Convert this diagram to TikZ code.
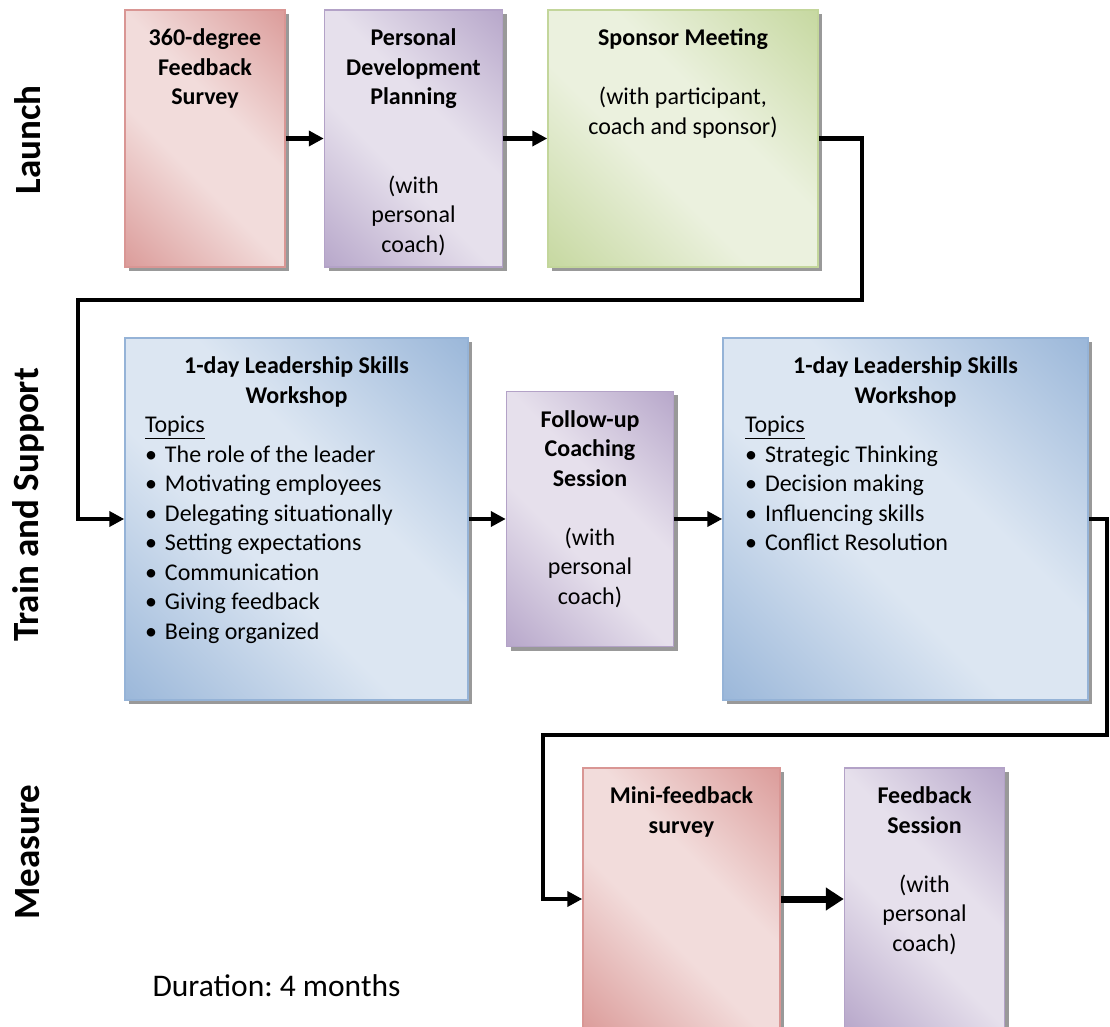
\documentclass[tikz,border=0pt]{standalone}
\usepackage{fontspec}
\setmainfont{Carlito}
\usetikzlibrary{arrows.meta,calc,positioning,shadows}

\definecolor{redD}{HTML}{D99694}
\definecolor{redL}{HTML}{F2DCDB}
\definecolor{purD}{HTML}{B3A2C7}
\definecolor{purL}{HTML}{E6E0EC}
\definecolor{grnD}{HTML}{C3D69B}
\definecolor{grnL}{HTML}{EBF1DE}
\definecolor{bluD}{HTML}{95B3D7}
\definecolor{bluL}{HTML}{DCE6F2}

\pgfdeclarehorizontalshading{redsh}{100bp}{color(0bp)=(redD); color(12bp)=(redD); color(42bp)=(redL); color(58bp)=(redL); color(88bp)=(redD); color(100bp)=(redD)}
\pgfdeclarehorizontalshading{pursh}{100bp}{color(0bp)=(purD); color(12bp)=(purD); color(42bp)=(purL); color(58bp)=(purL); color(88bp)=(purD); color(100bp)=(purD)}
\pgfdeclarehorizontalshading{grnsh}{100bp}{color(0bp)=(grnD); color(12bp)=(grnD); color(42bp)=(grnL); color(58bp)=(grnL); color(88bp)=(grnD); color(100bp)=(grnD)}
\pgfdeclarehorizontalshading{blush}{100bp}{color(0bp)=(bluD); color(12bp)=(bluD); color(42bp)=(bluL); color(58bp)=(bluL); color(88bp)=(bluD); color(100bp)=(bluD)}

% box text: width, height, contents (top aligned)
\newcommand{\boxtxt}[3]{\parbox[c][#2pt][t]{#1pt}{\vspace*{15pt}\centering\strut #3}}
\newcommand{\topic}[1]{\makebox[20pt][l]{\textbullet}#1}

\tikzset{
    -{Triangle[length=15pt,width=15pt]},
    box/.style={rectangle, inner sep=0pt, line width=1.5pt, shading angle=45,
        font=\fontsize{24}{29.5}\selectfont,
        drop shadow={shadow xshift=4pt,shadow yshift=-4pt,fill=black!40,opacity=1}},
    redbox/.style={box, draw=redD, shading=redsh},
    purbox/.style={box, draw=purD, shading=pursh},
    grnbox/.style={box, draw=grnD, shading=grnsh},
    blubox/.style={box, draw=bluD, shading=blush},
    lane/.style={rotate=90, font=\bfseries\fontsize{37}{44}\selectfont},
    big/.style={line width=7pt, -{Triangle[length=18pt,width=22pt]}}
}

\begin{document}
\frenchspacing
\begin{tikzpicture}[x=1pt,y=1pt,line width=4.5pt]
    \useasboundingbox (0,0) rectangle (1110,1026);

    \node[lane] (l1) at (28,886) {Launch};
    \node[lane] (l2) at (28,521) {Train and Support};
    \node[lane] (l3) at (28,174) {Measure};

    % launch
    \node[redbox] (1) at (205,887.5) {\boxtxt{160}{257}{\textbf{360-degree\\Feedback\\Survey}}};
    \node[purbox] (2) [right = 38pt of 1] {\boxtxt{178}{257}{\textbf{Personal\\Development\\Planning}\\[2\baselineskip](with\\personal\\coach)}};
    \node[grnbox] (3) [right = 44pt of 2] {\boxtxt{270}{257}{\textbf{Sponsor Meeting}\\[\baselineskip](with participant,\\coach and sponsor)}};

    % train and support
    \node[blubox] (4) at (296.5,507) {\boxtxt{343}{362}{\textbf{1-day Leadership Skills\\Workshop}\par
        \raggedright\leftskip=20pt \underline{Topics}\\
        \topic{The role of the leader}\\
        \topic{Motivating employees}\\
        \topic{Delegating situationally}\\
        \topic{Setting expectations}\\
        \topic{Communication}\\
        \topic{Giving feedback}\\
        \topic{Being organized}}};
    \node[purbox] (5) [right = 37pt of 4] {\boxtxt{167}{255}{\textbf{Follow-up\\Coaching\\Session}\\[\baselineskip](with\\personal\\coach)}};
    \node[blubox] (6) [right = 48pt of 5] {\boxtxt{365}{362}{\textbf{1-day Leadership Skills\\Workshop}\par
        \raggedright\leftskip=22pt \underline{Topics}\\
        \topic{Strategic Thinking}\\
        \topic{Decision making}\\
        \topic{Influencing skills}\\
        \topic{Conflict Resolution}}};

    % measure
    \node[redbox] (7) at (681.5,127) {\boxtxt{197}{262}{\textbf{Mini-feedback\\survey}}};
    \node[purbox] (8) [right = 63pt of 7] {\boxtxt{160}{262}{\textbf{Feedback\\Session}\\[\baselineskip](with\\personal\\coach)}};

    \node[anchor=base west, font=\fontsize{31.5}{36}\selectfont] (9) at (147,30) {Duration: 4 months};

    \coordinate (a) at (862,726);
    \coordinate (b) at (78,726);
    \coordinate (c) at (1107,291);
    \coordinate (d) at (543,291);

    \path (1) edge (2);
    \path (2) edge (3);
    \draw (3.east) -| (a) -- (b) |- (4.west);
    \path (4) edge (5);
    \path (5) edge (6);
    \draw (6.east) -| (c) -- (d) |- (7.west);
    \path (7) edge[big] (8);

\end{tikzpicture}
\end{document}
